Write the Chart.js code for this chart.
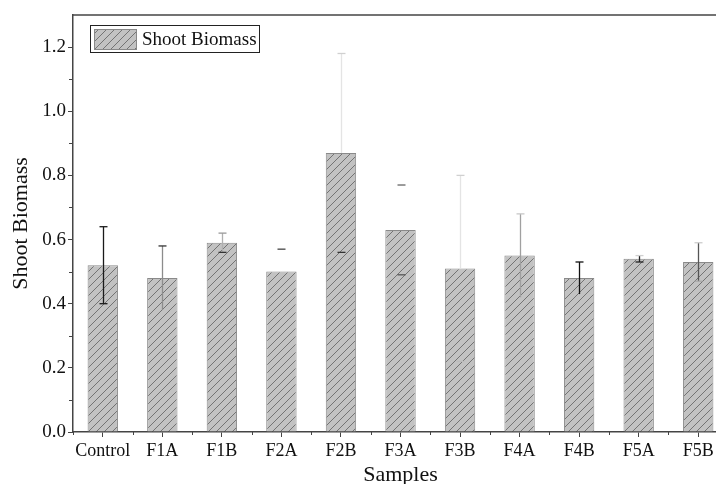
<!DOCTYPE html>
<html>
<head>
<meta charset="utf-8">
<script src="https://cdn.jsdelivr.net/npm/chart.js@4/dist/chart.umd.min.js"></script>
<style>
  html, body { margin: 0; padding: 0; background: #fff; overflow: hidden; }
  #wrap { width: 750px; height: 484px; }
</style>
</head>
<body>
<div id="wrap"><canvas id="chart" width="750" height="484"></canvas></div>
<script>
// 데이터
const categories = ['Control', 'F1A', 'F1B', 'F2A', 'F2B', 'F3A', 'F3B', 'F4A', 'F4B', 'F5A', 'F5B'];
const biomass = [0.52, 0.48, 0.59, 0.50, 0.87, 0.63, 0.51, 0.55, 0.48, 0.54, 0.53];
const errHigh = [0.64, 0.58, 0.62, 0.57, 1.18, 0.77, 0.80, 0.68, 0.53, 0.55, 0.59];
const errLow = [0.40, 0.38, 0.56, 0.50, 0.56, 0.49, 0.22, 0.42, 0.43, 0.53, 0.47];
const yTickValues = [0, 0.2, 0.4, 0.6, 0.8, 1.0, 1.2];
const yMinorValues = [0.1, 0.3, 0.5, 0.7, 0.9, 1.1];

// 에러바 색 (null = 안 그림)
const whiskerColor = ['#1a1a1a', '#8c8c8c', '#b0b0b0', null, '#e4e4e4', null, '#e4e4e4', '#a0a0a0', '#111', '#222', '#555'];
const topCapColor = ['#1a1a1a', '#333', '#999', '#444', '#d0d0d0', '#666', '#d0d0d0', '#c8c8c8', '#111', '#d0d0d0', '#ccc'];
const lowCapColor = ['#1a1a1a', null, '#333', null, '#333', '#555', '#bbb', null, null, '#222', '#aaa'];
// 막대 안에서는 안 보이는 옅은 선
const whiskerAboveOnly = [false, false, false, false, true, false, true, false, false, false, false];

const FONT = "'Liberation Serif', 'Times New Roman', serif";
const AXIS = '#444';

// 빗금 패턴
function makeHatch() {
    const c = document.createElement('canvas');
    c.width = 8; c.height = 8;
    const g = c.getContext('2d');
    g.fillStyle = '#c2c2c2';
    g.fillRect(0, 0, 8, 8);
    g.strokeStyle = '#6a6a6a';
    g.lineWidth = 0.9;
    g.beginPath();
    g.moveTo(-1, 9); g.lineTo(9, -1);
    g.moveTo(-1, 1); g.lineTo(1, -1);
    g.moveTo(7, 9); g.lineTo(9, 7);
    g.stroke();
    return c;
}
const hatch = document.getElementById('chart').getContext('2d').createPattern(makeHatch(), 'repeat');

// 에러바, 보조 눈금, 범례, 윗선
const extras = {
    id: 'extras',
    afterDatasetsDraw(chart) {
        const ctx = chart.ctx;
        const y = chart.scales.y;
        const x = chart.scales.x;
        const area = chart.chartArea;
        const meta = chart.getDatasetMeta(0);
        ctx.save();
        meta.data.forEach((bar, i) => {
            const px = Math.round(bar.x) + 0.5;
            const hi = y.getPixelForValue(errHigh[i]);
            const lo = y.getPixelForValue(errLow[i]);
            ctx.lineWidth = 1.3;
            if (whiskerColor[i]) {
                const start = whiskerAboveOnly[i] ? bar.y : lo;
                ctx.strokeStyle = whiskerColor[i];
                ctx.beginPath(); ctx.moveTo(px, start); ctx.lineTo(px, hi); ctx.stroke();
            }
            if (topCapColor[i]) {
                ctx.strokeStyle = topCapColor[i];
                ctx.beginPath(); ctx.moveTo(px - 4, hi); ctx.lineTo(px + 4, hi); ctx.stroke();
            }
            if (lowCapColor[i]) {
                ctx.strokeStyle = lowCapColor[i];
                ctx.beginPath(); ctx.moveTo(px - 4, lo); ctx.lineTo(px + 4, lo); ctx.stroke();
            }
        });

        // 윗 테두리
        ctx.strokeStyle = AXIS;
        ctx.lineWidth = 1.5;
        ctx.beginPath(); ctx.moveTo(area.left, area.top); ctx.lineTo(area.right, area.top); ctx.stroke();

        // y 보조 눈금
        ctx.lineWidth = 1;
        yMinorValues.forEach(v => {
            const py = Math.round(y.getPixelForValue(v)) + 0.5;
            ctx.beginPath(); ctx.moveTo(area.left - 4, py); ctx.lineTo(area.left, py); ctx.stroke();
        });
        // x 보조 눈금 (카테고리 경계)
        for (let i = 0; i <= categories.length; i++) {
            const px = Math.round(x.getPixelForValue(i - 0.5)) + 0.5;
            ctx.beginPath(); ctx.moveTo(px, area.bottom); ctx.lineTo(px, area.bottom + 3); ctx.stroke();
        }

        // 범례
        const lx = 90, ly = 25, lw = 169, lh = 27;
        ctx.fillStyle = '#fff';
        ctx.fillRect(lx, ly, lw, lh);
        ctx.strokeStyle = '#222';
        ctx.lineWidth = 1;
        ctx.strokeRect(lx + 0.5, ly + 0.5, lw, lh);
        ctx.fillStyle = hatch;
        ctx.fillRect(94, 29, 42, 20);
        ctx.strokeStyle = '#888';
        ctx.strokeRect(94.5, 29.5, 42, 20);
        ctx.fillStyle = '#111';
        ctx.font = '19px ' + FONT;
        ctx.textBaseline = 'middle';
        ctx.fillText('Shoot Biomass', 142, 40);
        ctx.restore();
    }
};

new Chart(document.getElementById('chart'), {
    type: 'bar',
    data: {
        labels: categories,
        datasets: [{
            label: 'Shoot Biomass',
            data: biomass,
            backgroundColor: hatch,
            borderColor: '#8a8a8a',
            borderWidth: 1,
            categoryPercentage: 1,
            barPercentage: 0.51
        }]
    },
    options: {
        responsive: false,
        animation: false,
        layout: { padding: { top: 15, right: 22, left: 0, bottom: 0 } },
        plugins: { legend: { display: false }, tooltip: { enabled: false } },
        scales: {
            x: {
                afterFit: s => { s.height = 52; },
                grid: { offset: false, drawOnChartArea: false, drawTicks: true, tickLength: 5, color: AXIS },
                border: { color: AXIS, width: 1.5 },
                ticks: { color: '#111', font: { family: FONT, size: 18 }, padding: 3, maxRotation: 0, autoSkip: false },
                title: { display: true, text: 'Samples', color: '#111', font: { family: FONT, size: 22 }, padding: { top: 0, bottom: -4 } }
            },
            y: {
                min: 0,
                max: 1.3,
                afterFit: s => { s.width = 73; },
                afterBuildTicks: s => { s.ticks = yTickValues.map(v => ({ value: v })); },
                grid: { drawOnChartArea: false, drawTicks: true, tickLength: 5, color: AXIS },
                border: { color: AXIS, width: 1.5 },
                ticks: { color: '#111', font: { family: FONT, size: 19 }, padding: 2, callback: v => v.toFixed(1) },
                title: { display: true, text: 'Shoot Biomass', color: '#111', font: { family: FONT, size: 22 }, padding: { top: 8, bottom: 0 } }
            }
        }
    },
    plugins: [extras]
});
</script>
</body>
</html>
